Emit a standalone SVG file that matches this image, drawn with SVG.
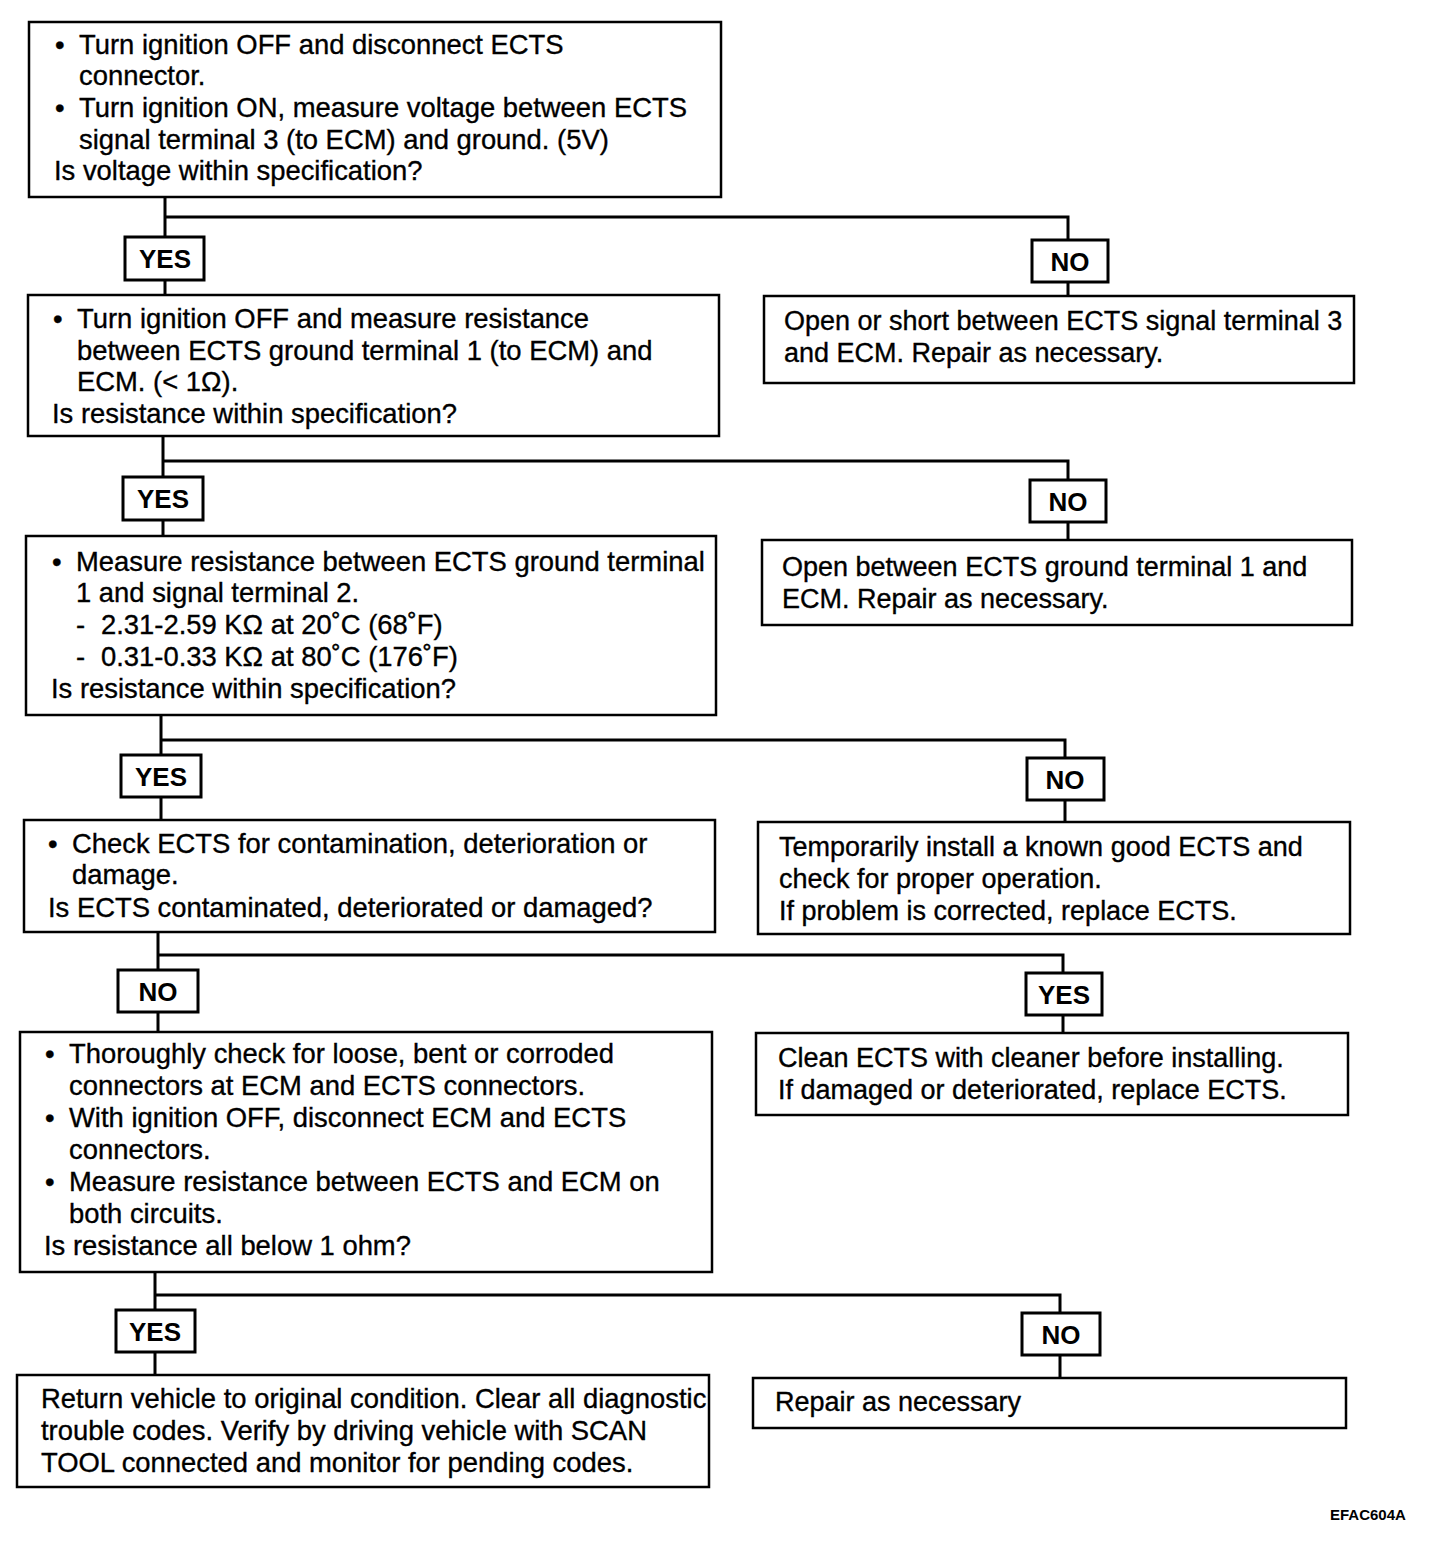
<svg xmlns="http://www.w3.org/2000/svg" width="1456" height="1554" viewBox="0 0 1456 1554">
<style>
.box{fill:#fff;stroke:#000;stroke-width:2.5}
.lbl{fill:#fff;stroke:#000;stroke-width:3}
.ln{fill:none;stroke:#000;stroke-width:3}
text{font-family:"Liberation Sans",Arial,sans-serif;font-size:27.4px;fill:#000;stroke:#000;stroke-width:0.35}
.rt text{font-size:27px}
.yn{font-weight:bold;font-size:26px;text-anchor:middle;stroke-width:0}
.code{font-weight:bold;font-size:15px;stroke-width:0}
</style>
<rect width="1456" height="1554" fill="#fff"/>
<g id="connectors">
<path class="ln" d="M165 197V237M165 280V295M165 217H1068V240M1068 282V296"/>
<path class="ln" d="M163 436V477M163 520V536M163 461H1068V480M1068 522V540"/>
<path class="ln" d="M161 715V755M161 797V820M161 740H1065V758M1065 800V822"/>
<path class="ln" d="M158 932V970M158 1012V1032M158 955H1063V973M1063 1015V1033"/>
<path class="ln" d="M155 1272V1310M155 1352V1375M155 1295H1060V1313M1060 1355V1378"/>
</g>
<g id="n1">
<rect class="box" x="29" y="22" width="692" height="175"/>
<text x="55" y="54">•</text><text x="79" y="54">Turn ignition OFF and disconnect ECTS</text>
<text x="79" y="85">connector.</text>
<text x="55" y="117">•</text><text x="79" y="117">Turn ignition ON, measure voltage between ECTS</text>
<text x="79" y="149">signal terminal 3 (to ECM) and ground. (5V)</text>
<text x="54" y="180">Is voltage within specification?</text>
</g>
<g id="yes1"><rect class="lbl" x="125" y="237" width="79" height="43"/><text class="yn" x="165" y="268">YES</text></g>
<g id="no1"><rect class="lbl" x="1032" y="240" width="76" height="42"/><text class="yn" x="1070" y="271">NO</text></g>
<g id="n2">
<rect class="box" x="28" y="295" width="691" height="141"/>
<text x="53" y="328">•</text><text x="77" y="328">Turn ignition OFF and measure resistance</text>
<text x="77" y="360">between ECTS ground terminal 1 (to ECM) and</text>
<text x="77" y="391">ECM. (&lt; 1Ω).</text>
<text x="52" y="423">Is resistance within specification?</text>
</g>
<g id="r1" class="rt">
<rect class="box" x="764" y="296" width="590" height="87"/>
<text x="784" y="330">Open or short between ECTS signal terminal 3</text>
<text x="784" y="362">and ECM. Repair as necessary.</text>
</g>
<g id="yes2"><rect class="lbl" x="123" y="477" width="80" height="43"/><text class="yn" x="163" y="508">YES</text></g>
<g id="no2"><rect class="lbl" x="1030" y="480" width="76" height="42"/><text class="yn" x="1068" y="511">NO</text></g>
<g id="n3">
<rect class="box" x="26" y="536" width="690" height="179"/>
<text x="52" y="571">•</text><text x="76" y="571">Measure resistance between ECTS ground terminal</text>
<text x="76" y="602">1 and signal terminal 2.</text>
<text x="76" y="634">-</text><text x="101" y="634">2.31-2.59 KΩ at 20˚C (68˚F)</text>
<text x="76" y="666">-</text><text x="101" y="666">0.31-0.33 KΩ at 80˚C (176˚F)</text>
<text x="51" y="698">Is resistance within specification?</text>
</g>
<g id="r2" class="rt">
<rect class="box" x="762" y="540" width="590" height="85"/>
<text x="782" y="576">Open between ECTS ground terminal 1 and</text>
<text x="782" y="608">ECM. Repair as necessary.</text>
</g>
<g id="yes3"><rect class="lbl" x="121" y="755" width="80" height="42"/><text class="yn" x="161" y="786">YES</text></g>
<g id="no3"><rect class="lbl" x="1027" y="758" width="77" height="42"/><text class="yn" x="1065" y="789">NO</text></g>
<g id="n4">
<rect class="box" x="24" y="820" width="691" height="112"/>
<text x="48" y="853">•</text><text x="72" y="853">Check ECTS for contamination, deterioration or</text>
<text x="72" y="884">damage.</text>
<text x="48" y="917">Is ECTS contaminated, deteriorated or damaged?</text>
</g>
<g id="r3" class="rt">
<rect class="box" x="758" y="822" width="592" height="112"/>
<text x="779" y="856">Temporarily install a known good ECTS and</text>
<text x="779" y="888">check for proper operation.</text>
<text x="779" y="920">If problem is corrected, replace ECTS.</text>
</g>
<g id="no4"><rect class="lbl" x="118" y="970" width="80" height="42"/><text class="yn" x="158" y="1001">NO</text></g>
<g id="yes4"><rect class="lbl" x="1026" y="973" width="76" height="42"/><text class="yn" x="1064" y="1004">YES</text></g>
<g id="n5">
<rect class="box" x="20" y="1032" width="692" height="240"/>
<text x="45" y="1063">•</text><text x="69" y="1063">Thoroughly check for loose, bent or corroded</text>
<text x="69" y="1095">connectors at ECM and ECTS connectors.</text>
<text x="45" y="1127">•</text><text x="69" y="1127">With ignition OFF, disconnect ECM and ECTS</text>
<text x="69" y="1159">connectors.</text>
<text x="45" y="1191">•</text><text x="69" y="1191">Measure resistance between ECTS and ECM on</text>
<text x="69" y="1223">both circuits.</text>
<text x="44" y="1255">Is resistance all below 1 ohm?</text>
</g>
<g id="r4" class="rt">
<rect class="box" x="756" y="1033" width="592" height="82"/>
<text x="778" y="1067">Clean ECTS with cleaner before installing.</text>
<text x="778" y="1099">If damaged or deteriorated, replace ECTS.</text>
</g>
<g id="yes5"><rect class="lbl" x="116" y="1310" width="79" height="42"/><text class="yn" x="155" y="1341">YES</text></g>
<g id="no5"><rect class="lbl" x="1022" y="1313" width="78" height="42"/><text class="yn" x="1061" y="1344">NO</text></g>
<g id="n6">
<rect class="box" x="17" y="1375" width="692" height="112"/>
<text x="41" y="1408">Return vehicle to original condition. Clear all diagnostic</text>
<text x="41" y="1440">trouble codes. Verify by driving vehicle with SCAN</text>
<text x="41" y="1472">TOOL connected and monitor for pending codes.</text>
</g>
<g id="r5" class="rt">
<rect class="box" x="753" y="1378" width="593" height="50"/>
<text x="775" y="1411">Repair as necessary</text>
</g>
<text class="code" x="1330" y="1520">EFAC604A</text>
</svg>
